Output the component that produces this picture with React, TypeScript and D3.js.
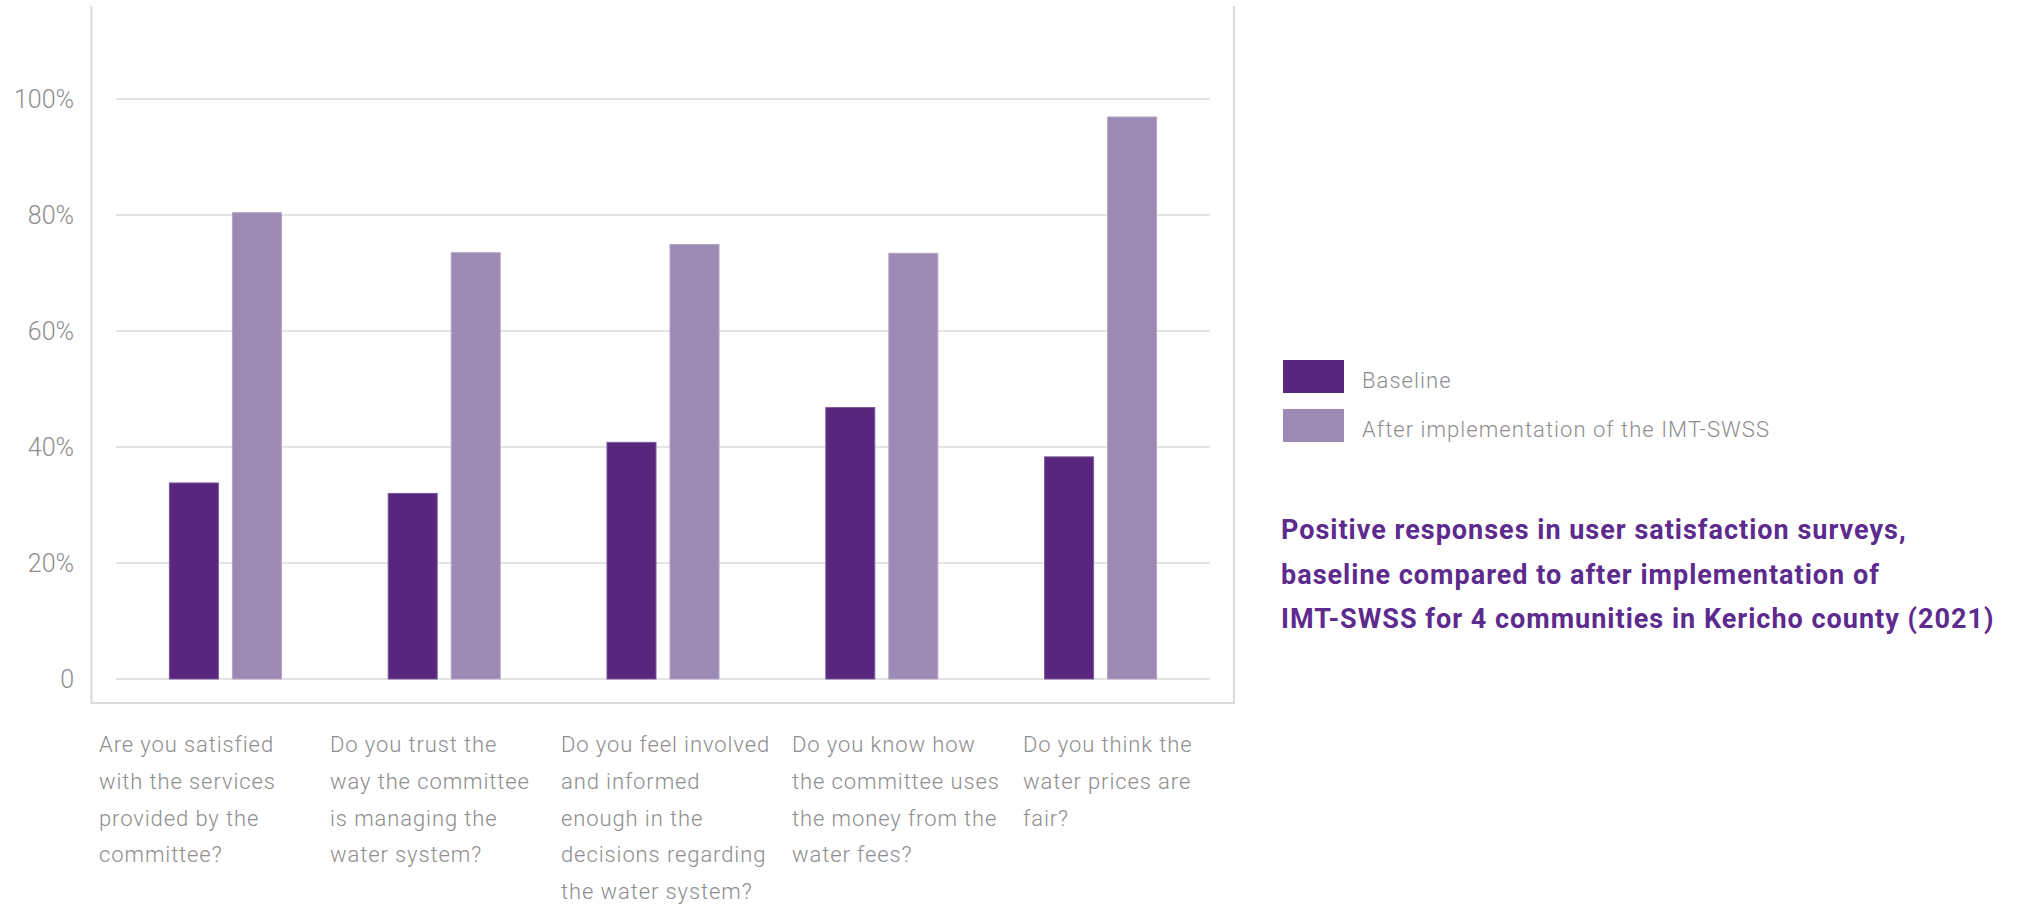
import React from "react";
import * as d3 from "d3";

const categories = ["q1", "q2", "q3", "q4", "q5"];
const categoryLabels = [
  ["Are you satisfied", "with the services", "provided by the", "committee?"],
  ["Do you trust the", "way the committee", "is managing the", "water system?"],
  ["Do you feel involved", "and informed", "enough in the", "decisions regarding", "the water system?"],
  ["Do you know how", "the committee uses", "the money from the", "water fees?"],
  ["Do you think the", "water prices are", "fair?"],
];
const seriesNames = ["Baseline", "After implementation of the IMT-SWSS"];
const baselineValues = [33.8, 32.0, 40.8, 46.8, 38.3];
const afterValues = [80.4, 73.5, 74.9, 73.4, 96.9];
const yTicks = [0, 20, 40, 60, 80, 100];
const yTickLabels = ["0", "20%", "40%", "60%", "80%", "100%"];
const titleLines = [
  "Positive responses in user satisfaction surveys,",
  "baseline compared to after implementation of",
  "IMT-SWSS for 4 communities in Kericho county (2021)",
];

const COLORS = ["#58277d", "#9c8ab4"];
const STROKES = ["#7a5a99", "#b3a5c6"];
const GRAY = "#8e8e8e";
const FONT = "Roboto, 'DejaVu Sans', sans-serif";

export default function App() {
  const W = 2022;
  const H = 905;
  const plotLeft = 116;
  const plotRight = 1210;
  const y = d3.scaleLinear().domain([0, 100]).range([679, 99]);
  const x0 = d3.scaleBand<string>().domain(categories).range([plotLeft, plotRight]).padding(0);
  const x1 = d3
    .scaleBand<string>()
    .domain(seriesNames)
    .range([0, x0.bandwidth()])
    .paddingInner(14 / 63)
    .paddingOuter(0.847);
  const labelX = d3.scaleBand<string>().domain(categories).range([99, 99 + 231 * 5]);

  const frameLeft = 91.5;
  const frameRight = 1234;
  const frameTop = 6;
  const frameBottom = 703;

  const series = [baselineValues, afterValues];

  return (
    <svg
      width={W}
      height={H}
      style={{ position: "absolute", left: 0, top: 0, display: "block", background: "#fff" }}
      fontFamily={FONT}
    >
      {/* gridlines */}
      {yTicks.map((t) => (
        <line
          key={"g" + t}
          x1={plotLeft}
          x2={plotRight}
          y1={y(t)}
          y2={y(t)}
          stroke="#e4e4e4"
          strokeWidth={2}
        />
      ))}
      {/* frame */}
      <path
        d={`M${frameLeft},${frameTop}V${frameBottom}H${frameRight}V${frameTop}`}
        fill="none"
        stroke="#dadada"
        strokeWidth={2}
      />
      {/* tick labels */}
      {yTicks.map((t, i) => (
        <text
          key={"t" + t}
          x={74}
          y={y(t)}
          dy="0.36em"
          textAnchor="end"
          fontSize={25}
          fontWeight={300}
          fill={GRAY}
        >
          {yTickLabels[i]}
        </text>
      ))}
      {/* bars */}
      {categories.map((c, ci) => (
        <g key={c} transform={`translate(${x0(c)},0)`}>
          {seriesNames.map((s, si) => {
            const v = series[si][ci];
            return (
              <rect
                key={s}
                x={x1(s)}
                y={y(v)}
                width={x1.bandwidth()}
                height={y(0) - y(v)}
                fill={COLORS[si]}
                stroke={STROKES[si]}
                strokeWidth={1}
              />
            );
          })}
        </g>
      ))}
      {/* category labels */}
      {categories.map((c, ci) => (
        <text
          key={"l" + c}
          x={labelX(c)}
          y={752}
          fontSize={22}
          fontWeight={300}
          letterSpacing={0.9}
          fill={GRAY}
        >
          {categoryLabels[ci].map((line, li) => (
            <tspan key={li} x={labelX(c)} dy={li === 0 ? 0 : 36.8}>
              {line}
            </tspan>
          ))}
        </text>
      ))}
      {/* legend */}
      {seriesNames.map((s, si) => (
        <g key={"lg" + s} transform={`translate(1283,${360 + si * 49})`}>
          <rect width={61} height={33} fill={COLORS[si]} />
          <text
            x={79}
            y={20}
            dy="0.36em"
            fontSize={22}
            fontWeight={300}
            letterSpacing={1.05}
            fill={GRAY}
          >
            {s}
          </text>
        </g>
      ))}
      {/* title */}
      <text x={1281} y={539} fontSize={27} fontWeight={700} letterSpacing={1.0} fill="#5d2a8e">
        {titleLines.map((line, i) => (
          <tspan key={i} x={1281} dy={i === 0 ? 0 : 44.5}>
            {line}
          </tspan>
        ))}
      </text>
    </svg>
  );
}
